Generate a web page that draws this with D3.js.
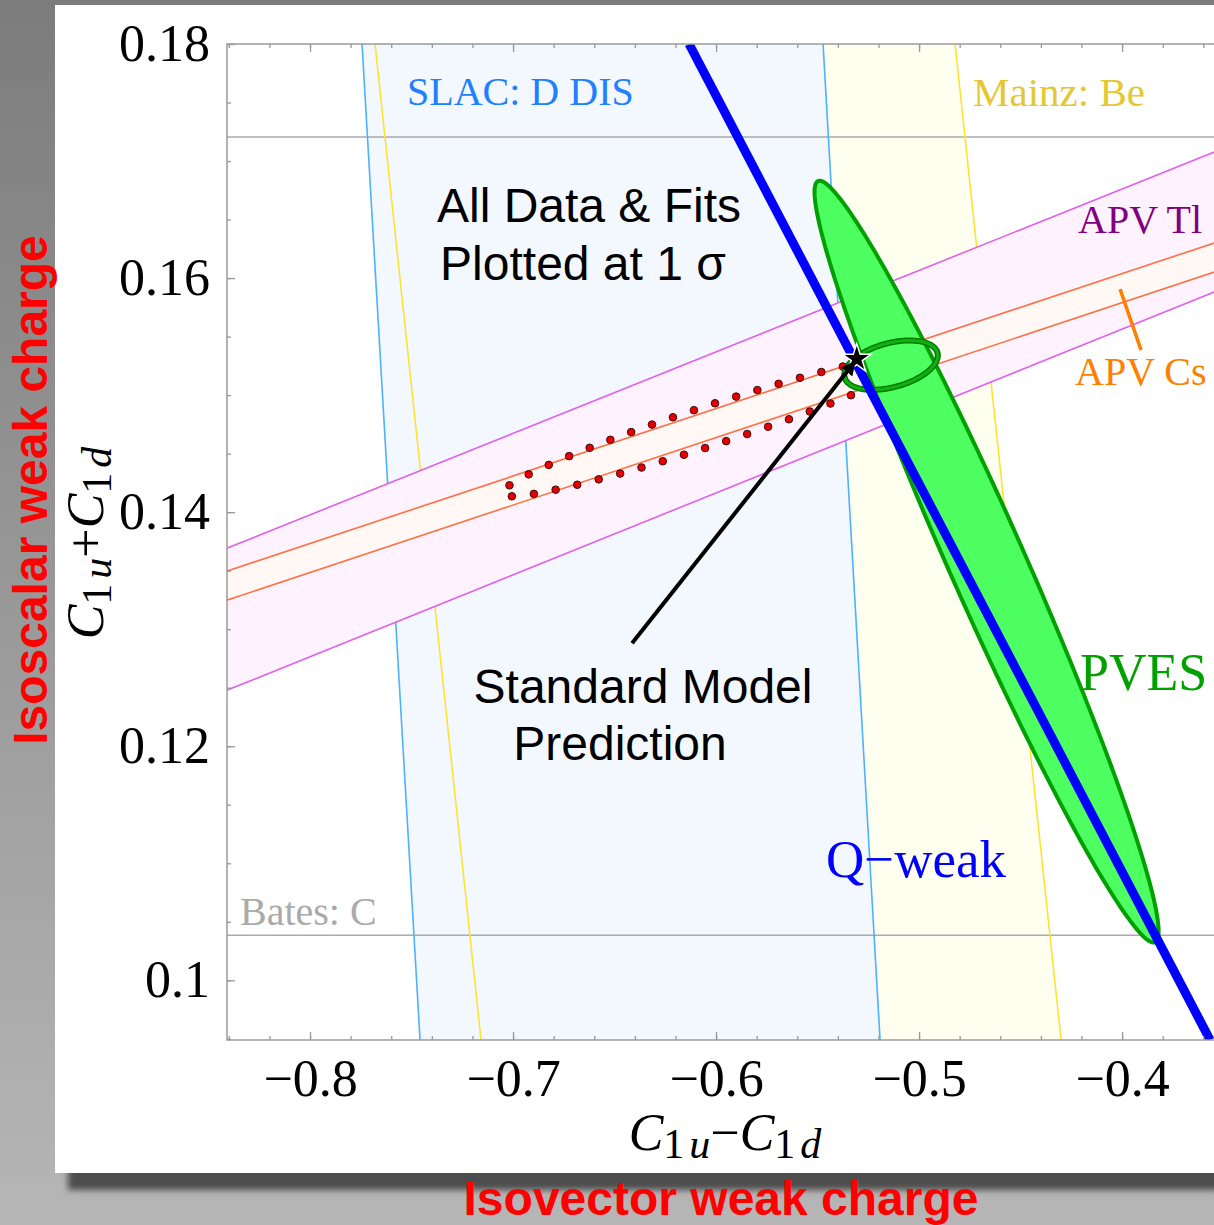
<!DOCTYPE html>
<head>
<meta charset="utf-8">
<script src="https://cdn.jsdelivr.net/npm/d3@7"></script>
<style>
  body { margin: 0; }
  svg { display: block; }
</style>
</head>
<body>
<div id="chart"></div>
<script>
// axis ticks
var xMajor = [-0.8, -0.7, -0.6, -0.5, -0.4];
var xTickLabels = ["\u22120.8", "\u22120.7", "\u22120.6", "\u22120.5", "\u22120.4"];
var yMajor = [0.1, 0.12, 0.14, 0.16, 0.18];
var yTickLabels = ["0.1", "0.12", "0.14", "0.16", "0.18"];

// vertical bands: x at top (0.18) and x at bottom (0.0949) of each edge
var bandYs = [0.18, 0.0949];
var slacLeft = [-0.77438, -0.74581];
var slacRight = [-0.54729, -0.51921];
var mainzLeft = [-0.76798, -0.71576];
var mainzRight = [-0.48227, -0.43005];

// horizontal bands: y at x = -0.85 and x = -0.34
var bandXs = [-0.85, -0.34];
var tlUpper = [0.13629, 0.17179];
var tlLower = [0.12415, 0.15983];
var csUpper = [0.13444, 0.16384];
var csLower = [0.13196, 0.16136];
var batesLevels = [0.10385, 0.17205];

// Q-weak line
var qweakXs = [-0.61330, -0.35665];
var qweakYs = [0.18, 0.0949];

// ellipses: centre and two conjugate radii (data units)
var pvesEllipse = { c: [-0.46675, 0.13577], a: [0.08300, -0.03252], b: [0.01710, 0.001317] };
var fitEllipse = { c: [-0.51379, 0.15256], a: [0.02286, 0.00106], b: [0.00280, -0.00182] };
var allDataEllipse = { c: [-0.60296, 0.14739], a: [0.10246, 0.005769], b: [0, -0.001774] };

// Standard Model point and arrow tail
var smPoint = [-0.5307, 0.1531];
var arrowTail = [-0.64138, 0.12880];
var csMarker = [[-0.40099, 0.15906], [-0.39064, 0.15385]];

var W = 1214, H = 1225;
var pL = 227, pR = 1224, pT = 44, pB = 1040;

var x = d3.scaleLinear().domain([-0.8409, -0.3498]).range([pL, pR]);
var y = d3.scaleLinear().domain([0.0949, 0.18]).range([pB, pT]);

var serif = "'Liberation Serif', 'Times New Roman', serif";
var sans = "'Liberation Sans', Arial, sans-serif";

var svg = d3.select("#chart").append("svg")
    .attr("width", W)
    .attr("height", H);

var defs = svg.append("defs");
var grad = defs.append("linearGradient").attr("id", "bg")
    .attr("x1", 0).attr("y1", 0).attr("x2", 0).attr("y2", 1);
grad.append("stop").attr("offset", "0%").attr("stop-color", "#7c7c7c");
grad.append("stop").attr("offset", "100%").attr("stop-color", "#b6b6b6");

defs.append("filter").attr("id", "blur")
    .attr("x", "-5%").attr("y", "-5%").attr("width", "110%").attr("height", "110%")
  .append("feGaussianBlur").attr("stdDeviation", 3);

defs.append("clipPath").attr("id", "plotclip")
  .append("rect")
    .attr("x", pL).attr("y", pT)
    .attr("width", pR - pL).attr("height", pB - pT);

defs.append("marker").attr("id", "head")
    .attr("viewBox", "0 0 10 10")
    .attr("refX", 9).attr("refY", 5)
    .attr("markerWidth", 3.6).attr("markerHeight", 3.6)
    .attr("orient", "auto")
  .append("path")
    .attr("d", "M0,0 L10,5 L0,10 z")
    .attr("fill", "black");

// background, shadow and white panel
svg.append("rect").attr("width", W).attr("height", H).attr("fill", "url(#bg)");
svg.append("rect")
    .attr("x", 68).attr("y", 20).attr("width", 1300).attr("height", 1170)
    .attr("fill", "#4e4e4e")
    .attr("filter", "url(#blur)");
svg.append("rect")
    .attr("x", 55).attr("y", 5).attr("width", 1300).attr("height", 1168)
    .attr("fill", "white");

var plot = svg.append("g").attr("clip-path", "url(#plotclip)");

function vband(l, r) {
  return [[l[0], bandYs[0]], [l[1], bandYs[1]], [r[1], bandYs[1]], [r[0], bandYs[0]]];
}
function hband(u, lo) {
  return [[bandXs[0], u[0]], [bandXs[1], u[1]], [bandXs[1], lo[1]], [bandXs[0], lo[0]]];
}
function vline(l) { return [[l[0], bandYs[0]], [l[1], bandYs[1]]]; }
function hline(u) { return [[bandXs[0], u[0]], [bandXs[1], u[1]]]; }
function ellipsePts(e, n) {
  return d3.range(n).map(function(i) {
    var t = 2 * Math.PI * i / n;
    return [e.c[0] + e.a[0] * Math.cos(t) + e.b[0] * Math.sin(t),
            e.c[1] + e.a[1] * Math.cos(t) + e.b[1] * Math.sin(t)];
  });
}

var lineGen = d3.line().x(function(d) { return x(d[0]); }).y(function(d) { return y(d[1]); });
var shapeGen = d3.line().x(function(d) { return x(d[0]); }).y(function(d) { return y(d[1]); })
    .curve(d3.curveLinearClosed);

// band fills
plot.append("path").attr("d", shapeGen(vband(mainzLeft, mainzRight))).attr("fill", "#fffff0");
plot.append("path").attr("d", shapeGen(vband(slacLeft, slacRight))).attr("fill", "#f3f8fe");

// Bates lines
batesLevels.forEach(function(v) {
  plot.append("line")
      .attr("x1", pL).attr("x2", pR)
      .attr("y1", y(v)).attr("y2", y(v))
      .attr("stroke", "#aaaaaa").attr("stroke-width", 1.6);
});

[slacLeft, slacRight].forEach(function(l) {
  plot.append("path").attr("d", lineGen(vline(l)))
      .attr("stroke", "#4cb2ff").attr("stroke-width", 1.6).attr("fill", "none");
});
[mainzLeft, mainzRight].forEach(function(l) {
  plot.append("path").attr("d", lineGen(vline(l)))
      .attr("stroke", "#ffe233").attr("stroke-width", 1.6).attr("fill", "none");
});

// APV bands
plot.append("path").attr("d", shapeGen(hband(tlUpper, tlLower))).attr("fill", "#fdf2fd");
plot.append("path").attr("d", shapeGen(hband(csUpper, csLower))).attr("fill", "#fff8f4");
[tlUpper, tlLower].forEach(function(u) {
  plot.append("path").attr("d", lineGen(hline(u)))
      .attr("stroke", "#e060ea").attr("stroke-width", 1.6).attr("fill", "none");
});
[csUpper, csLower].forEach(function(u) {
  plot.append("path").attr("d", lineGen(hline(u)))
      .attr("stroke", "#ff7045").attr("stroke-width", 1.6).attr("fill", "none");
});

// dotted all-data ellipse
var guide = plot.append("path")
    .attr("d", shapeGen(ellipsePts(allDataEllipse, 240)))
    .attr("fill", "none").attr("stroke", "none");
var L = guide.node().getTotalLength();
var nDots = Math.round(L / 22);
var dots = d3.range(nDots).map(function(i) {
  return guide.node().getPointAtLength((i + 0.5) * L / nDots);
});
plot.selectAll(".dot")
    .data(dots)
  .enter().append("circle")
    .attr("class", "dot")
    .attr("cx", function(d) { return d.x; })
    .attr("cy", function(d) { return d.y; })
    .attr("r", 3.8)
    .attr("fill", "#e80000")
    .attr("stroke", "#3a1010")
    .attr("stroke-width", 1);

// PVES ellipse
plot.append("path")
    .attr("d", shapeGen(ellipsePts(pvesEllipse, 240)))
    .attr("fill", "#4dff60")
    .attr("stroke", "#00a000")
    .attr("stroke-width", 4);

// combined fit ring
plot.append("path")
    .attr("d", shapeGen(ellipsePts(fitEllipse, 160)))
    .attr("fill", "none")
    .attr("stroke", "#007a00")
    .attr("stroke-width", 6);
plot.append("path")
    .attr("d", shapeGen(ellipsePts(fitEllipse, 160)))
    .attr("fill", "none")
    .attr("stroke", "#10b010")
    .attr("stroke-width", 3);

// Q-weak
plot.append("path")
    .attr("d", lineGen([[qweakXs[0], qweakYs[0]], [qweakXs[1], qweakYs[1]]]))
    .attr("stroke", "#0000ff")
    .attr("stroke-width", 9)
    .attr("fill", "none");

// APV Cs marker
plot.append("path")
    .attr("d", lineGen(csMarker))
    .attr("stroke", "#ff8000")
    .attr("stroke-width", 3.5)
    .attr("fill", "none");

// SM star
plot.append("path")
    .attr("d", d3.symbol().type(d3.symbolStar).size(260)())
    .attr("transform", "translate(" + x(smPoint[0]) + "," + y(smPoint[1]) + ")")
    .attr("fill", "black")
    .attr("stroke", "white")
    .attr("stroke-width", 1.5);

// arrow
svg.append("line")
    .attr("x1", x(arrowTail[0])).attr("y1", y(arrowTail[1]))
    .attr("x2", x(smPoint[0]) - 2).attr("y2", y(smPoint[1]) + 3)
    .attr("stroke", "black")
    .attr("stroke-width", 4)
    .attr("marker-end", "url(#head)");

// axes
function styleAxis(g) {
  g.select(".domain").remove();
  g.selectAll(".tick line").attr("stroke", "#999").attr("stroke-width", 1.3);
  g.selectAll(".tick text")
      .attr("font-family", serif)
      .attr("font-size", 52)
      .attr("fill", "black");
}

var xMinor = d3.range(-0.84, -0.35, 0.02);
var yMinor = d3.range(0.095, 0.1801, 0.005);

svg.append("g").attr("transform", "translate(0," + pB + ")")
    .call(d3.axisBottom(x).tickValues(xMinor).tickSize(-4).tickFormat(""))
    .call(styleAxis);
svg.append("g").attr("transform", "translate(0," + pB + ")")
    .call(d3.axisBottom(x).tickValues(xMajor)
      .tickFormat(function(d, i) { return xTickLabels[i]; })
      .tickSize(-8).tickPadding(19))
    .call(styleAxis);
svg.append("g").attr("transform", "translate(0," + pT + ")")
    .call(d3.axisTop(x).tickValues(xMinor).tickSize(-4).tickFormat(""))
    .call(styleAxis);
svg.append("g").attr("transform", "translate(0," + pT + ")")
    .call(d3.axisTop(x).tickValues(xMajor).tickSize(-8).tickFormat(""))
    .call(styleAxis);
svg.append("g").attr("transform", "translate(" + pL + ",0)")
    .call(d3.axisLeft(y).tickValues(yMinor).tickSize(-4).tickFormat(""))
    .call(styleAxis);
svg.append("g").attr("transform", "translate(" + pL + ",0)")
    .call(d3.axisLeft(y).tickValues(yMajor)
      .tickFormat(function(d, i) { return yTickLabels[i]; })
      .tickSize(-8).tickPadding(17))
    .call(styleAxis);

svg.append("rect")
    .attr("x", pL).attr("y", pT)
    .attr("width", pR - pL).attr("height", pB - pT)
    .attr("fill", "none")
    .attr("stroke", "#9a9a9a")
    .attr("stroke-width", 1.5);

// axis titles
function cLabel(t, op) {
  t.attr("font-family", serif).attr("font-size", 52).attr("fill", "black");
  t.append("tspan").attr("font-style", "italic").text("C");
  t.append("tspan").attr("font-size", 42).attr("dy", 8).text("1");
  t.append("tspan").attr("font-size", 42).attr("font-style", "italic").attr("dx", 5).text("u");
  t.append("tspan").attr("dy", -8).text(op);
  t.append("tspan").attr("font-style", "italic").text("C");
  t.append("tspan").attr("font-size", 42).attr("dy", 8).text("1");
  t.append("tspan").attr("font-size", 42).attr("font-style", "italic").attr("dx", 5).text("d");
}
svg.append("text")
    .attr("x", 725).attr("y", 1150)
    .attr("text-anchor", "middle")
    .call(cLabel, "\u2212");
svg.append("text")
    .attr("transform", "translate(103,543) rotate(-90)")
    .attr("text-anchor", "middle")
    .call(cLabel, "+");

// red titles
svg.append("text")
    .attr("x", 721).attr("y", 1215)
    .attr("text-anchor", "middle")
    .attr("font-family", sans).attr("font-weight", "bold")
    .attr("font-size", 48).attr("fill", "#ff0000")
    .text("Isovector weak charge");
svg.append("text")
    .attr("transform", "translate(47,490) rotate(-90)")
    .attr("text-anchor", "middle")
    .attr("font-family", sans).attr("font-weight", "bold")
    .attr("font-size", 48).attr("fill", "#ff0000")
    .text("Isoscalar weak charge");

// band labels
var labels = [
  { t: "SLAC: D DIS", x: 407, y: 105, s: 40, c: "#2080ff" },
  { t: "Mainz: Be", x: 973, y: 106, s: 41, c: "#e5c733" },
  { t: "Bates: C", x: 240, y: 925, s: 40, c: "#aaaaaa" },
  { t: "APV Tl", x: 1078, y: 233, s: 40, c: "#800080" },
  { t: "APV Cs", x: 1075, y: 385, s: 40, c: "#ff8000" },
  { t: "PVES", x: 1080, y: 690, s: 52, c: "#00a000" },
  { t: "Q\u2212weak", x: 826, y: 877, s: 53, c: "#0000ff" }
];
svg.selectAll(".blabel")
    .data(labels)
  .enter().append("text")
    .attr("class", "blabel")
    .attr("x", function(d) { return d.x; })
    .attr("y", function(d) { return d.y; })
    .attr("font-family", serif)
    .attr("font-size", function(d) { return d.s; })
    .attr("fill", function(d) { return d.c; })
    .text(function(d) { return d.t; });

var notes = [
  { t: "All Data & Fits", x: 589, y: 222 },
  { t: "Plotted at 1 \u03c3", x: 583, y: 280 },
  { t: "Standard Model", x: 643, y: 703 },
  { t: "Prediction", x: 620, y: 760 }
];
svg.selectAll(".note")
    .data(notes)
  .enter().append("text")
    .attr("class", "note")
    .attr("x", function(d) { return d.x; })
    .attr("y", function(d) { return d.y; })
    .attr("text-anchor", "middle")
    .attr("font-family", sans)
    .attr("font-size", 48)
    .attr("fill", "black")
    .text(function(d) { return d.t; });
</script>
</body>
</html>
